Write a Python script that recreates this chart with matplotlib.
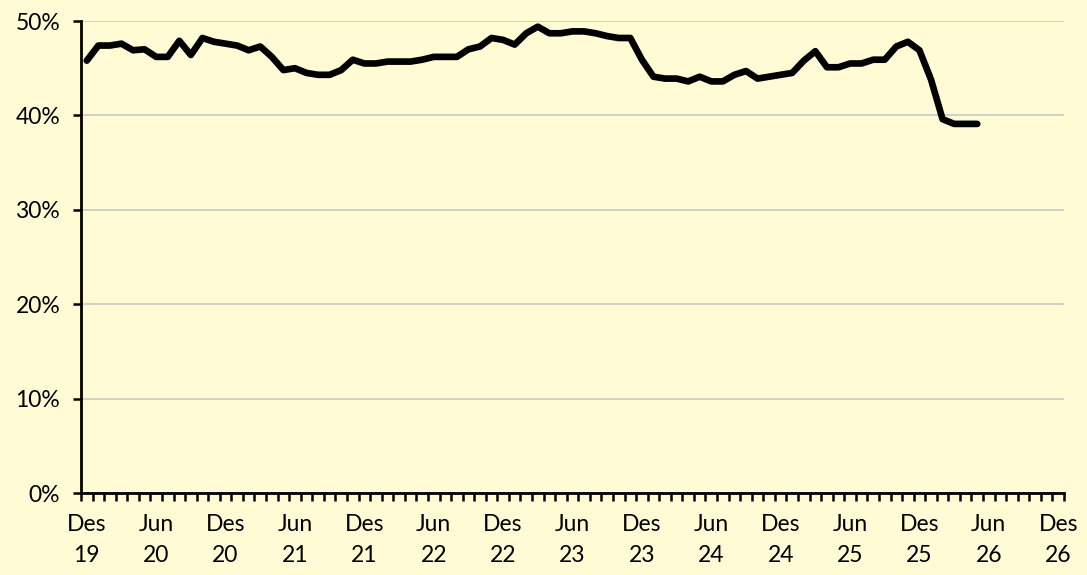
import matplotlib
matplotlib.use("Agg")
import matplotlib.pyplot as plt
import numpy as np

# Monthly values, Dec 2019 .. May 2026 (percent)
values = [45.8, 47.4, 47.4, 47.6, 46.9, 47.0, 46.2, 46.2, 47.9, 46.4, 48.2, 47.8,
          47.6, 47.4, 46.9, 47.3, 46.2, 44.8, 45.0, 44.5, 44.3, 44.3, 44.8, 45.9,
          45.5, 45.5, 45.7, 45.7, 45.7, 45.9, 46.2, 46.2, 46.2, 47.0, 47.3, 48.2,
          48.0, 47.5, 48.7, 49.4, 48.7, 48.7, 48.9, 48.9, 48.7, 48.4, 48.2, 48.2,
          45.9, 44.1, 43.9, 43.9, 43.6, 44.1, 43.6, 43.6, 44.3, 44.7, 43.9, 44.1,
          44.3, 44.5, 45.8, 46.8, 45.1, 45.1, 45.5, 45.5, 45.9, 45.9, 47.3, 47.8,
          46.9, 43.8, 39.6, 39.1, 39.1, 39.1]
n_months = 85  # Dec 2019 .. Dec 2026
tick_labels = ["Des\n19", "Jun\n20", "Des\n20", "Jun\n21", "Des\n21", "Jun\n22",
               "Des\n22", "Jun\n23", "Des\n23", "Jun\n24", "Des\n24", "Jun\n25",
               "Des\n25", "Jun\n26", "Des\n26"]
y_ticks = [0, 10, 20, 30, 40, 50]

bg = "#FFFBD5"
plt.rcParams['font.family'] = ['Lato', 'DejaVu Sans']

fig = plt.figure(figsize=(10.87, 5.75), dpi=100, facecolor=bg)
ax = fig.add_axes([81/1087, 1-493/575, (1064-81)/1087, (493-21)/575])
ax.set_facecolor(bg)

x = np.arange(len(values))
ax.plot(x, values, color="black", lw=4.8, solid_joinstyle="round", solid_capstyle="round", zorder=3)

ax.set_xlim(-0.5, n_months - 0.5)
ax.set_ylim(0, 50)
ax.set_yticks(y_ticks)
ax.set_yticklabels([f"{v}%" for v in y_ticks])
ax.yaxis.grid(True, color="#C8C8C8", lw=1.2)
ax.set_axisbelow(True)

ax.set_xticks(np.arange(0, n_months, 6))
ax.set_xticklabels(tick_labels)
ax.set_xticks(np.arange(-0.5, n_months, 1), minor=True)
ax.tick_params(axis="x", which="major", length=0, pad=15, labelsize=16.5)
ax.tick_params(axis="x", which="minor", length=6, width=1.8, direction="out")
ax.tick_params(axis="y", length=6, width=1.8, pad=9, labelsize=16.5)
for lab in ax.get_xticklabels():
    lab.set_linespacing(1.6)

for s in ["top", "right"]:
    ax.spines[s].set_visible(False)
for s in ["left", "bottom"]:
    ax.spines[s].set_linewidth(2)
    ax.spines[s].set_color("black")

fig.savefig("out.png", dpi=100, facecolor=bg)
